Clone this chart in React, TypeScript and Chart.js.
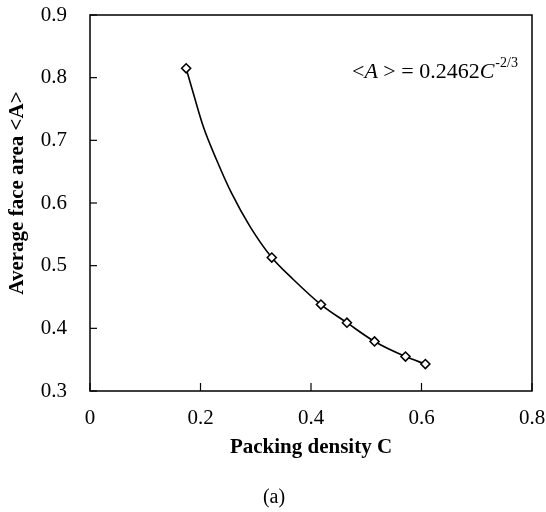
import React, { useEffect, useRef } from "react";
import { Chart, registerables } from "chart.js";

Chart.register(...registerables);

// measured points
const densityC = [0.174, 0.329, 0.418, 0.465, 0.515, 0.571, 0.607];
const faceAreaA = [0.815, 0.513, 0.438, 0.409, 0.379, 0.355, 0.343];
// fitted curve
const fitC = [0.174, 0.187, 0.205, 0.229, 0.256, 0.29, 0.329, 0.368, 0.418, 0.465, 0.515, 0.571, 0.607];
const fitA = [0.815, 0.775, 0.722, 0.669, 0.616, 0.562, 0.513, 0.478, 0.438, 0.409, 0.379, 0.355, 0.343];
const xTickValues = [0, 0.2, 0.4, 0.6, 0.8];
const yTickValues = [0.3, 0.4, 0.5, 0.6, 0.7, 0.8, 0.9];
const xTitle = "Packing density C";
const yTitle = "Average face area <A>";
const panelLabel = "(a)";

const FONT = "'Liberation Serif', 'Times New Roman', serif";

const framePlugin = {
  id: "frame",
  afterDraw(chart: any) {
    const { ctx, chartArea, scales } = chart;
    const { left, right, top, bottom } = chartArea;
    ctx.save();
    ctx.strokeStyle = "#000";
    ctx.lineWidth = 1.5;
    ctx.strokeRect(left, top, right - left, bottom - top);
    ctx.lineWidth = 1.2;
    yTickValues.forEach((v) => {
      const y = scales.y.getPixelForValue(v);
      ctx.beginPath();
      ctx.moveTo(left, y);
      ctx.lineTo(left + 7, y);
      ctx.stroke();
    });
    xTickValues.forEach((v) => {
      const x = scales.x.getPixelForValue(v);
      ctx.beginPath();
      ctx.moveTo(x, bottom);
      ctx.lineTo(x, bottom - 8);
      ctx.stroke();
    });
    ctx.fillStyle = "#000";
    ctx.textBaseline = "alphabetic";
    ctx.textAlign = "left";
    // equation annotation
    let x = 352;
    const yb = 78;
    const parts: [string, string][] = [
      ["<", `22px ${FONT}`],
      ["A", `italic 22px ${FONT}`],
      [" > = 0.2462", `22px ${FONT}`],
      ["C", `italic 22px ${FONT}`],
    ];
    parts.forEach(([t, f]) => {
      ctx.font = f;
      ctx.fillText(t, x, yb);
      x += ctx.measureText(t).width;
    });
    ctx.font = `14px ${FONT}`;
    ctx.fillText("-2/3", x + 1, 67);
    // y title
    ctx.save();
    ctx.translate(18, 193);
    ctx.rotate(-Math.PI / 2);
    ctx.textAlign = "center";
    ctx.textBaseline = "middle";
    ctx.font = `bold 21px ${FONT}`;
    ctx.fillText(yTitle, 0, 0);
    ctx.restore();
    // panel label
    ctx.font = `20px ${FONT}`;
    ctx.textAlign = "center";
    ctx.fillText(panelLabel, 274, 503);
    ctx.restore();
  },
};

export default function App() {
  const ref = useRef<HTMLCanvasElement>(null);
  useEffect(() => {
    if (!ref.current) return;
    const chart = new Chart(ref.current, {
      type: "scatter",
      data: {
        datasets: [
          {
            data: densityC.map((c, i) => ({ x: c, y: faceAreaA[i] })),
            showLine: false,
            pointStyle: "rectRot",
            pointRadius: 4.5,
            pointBorderWidth: 1.6,
            pointBackgroundColor: "#fff",
            pointBorderColor: "#000",
            order: 0,
          } as any,
          {
            data: fitC.map((c, i) => ({ x: c, y: fitA[i] })),
            showLine: true,
            cubicInterpolationMode: "monotone",
            borderColor: "#000",
            borderWidth: 1.6,
            pointRadius: 0,
            order: 1,
          } as any,
        ],
      },
      options: {
        responsive: false,
        animation: false,
        layout: { padding: { top: 15, right: 14, left: 0, bottom: 0 } },
        plugins: { legend: { display: false }, tooltip: { enabled: false } },
        scales: {
          x: {
            type: "linear",
            min: 0,
            max: 0.8,
            afterFit: (s: any) => {
              s.height = 121;
              s.paddingLeft = 0;
              s.paddingRight = 0;
            },
            afterBuildTicks: (s: any) => {
              s.ticks = xTickValues.map((v) => ({ value: v }));
            },
            ticks: {
              color: "#000",
              padding: 15,
              font: { family: FONT, size: 21 },
              callback: (v: any) => (Number(v) === 0 ? "0" : Number(v).toFixed(1)),
            },
            grid: { display: false, drawTicks: false },
            border: { display: false },
            title: {
              display: true,
              text: xTitle,
              color: "#000",
              font: { family: FONT, size: 21, weight: "bold" },
              padding: { top: 0, bottom: 52 },
            },
          },
          y: {
            type: "linear",
            min: 0.3,
            max: 0.9,
            afterFit: (s: any) => {
              s.width = 90;
              s.paddingTop = 0;
              s.paddingBottom = 0;
            },
            afterBuildTicks: (s: any) => {
              s.ticks = yTickValues.map((v) => ({ value: v }));
            },
            ticks: {
              color: "#000",
              padding: 23,
              font: { family: FONT, size: 21 },
              callback: (v: any) => Number(v).toFixed(1),
            },
            grid: { display: false, drawTicks: false },
            border: { display: false },
            title: { display: false, text: yTitle },
          },
        },
      },
      plugins: [framePlugin],
    });
    return () => chart.destroy();
  }, []);
  return (
    <div style={{ position: "fixed", left: 0, top: 0, width: 546, height: 512, background: "#fff" }}>
      <canvas ref={ref} width={546} height={512} style={{ display: "block" }} />
    </div>
  );
}
